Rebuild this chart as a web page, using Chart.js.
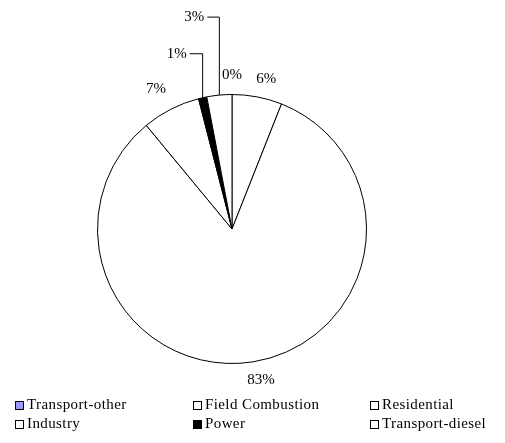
<!DOCTYPE html>
<html>
<head>
<meta charset="utf-8">
<script src="https://cdn.jsdelivr.net/npm/chart.js@4.4.0/dist/chart.umd.min.js"></script>
<style>
  html, body { margin: 0; padding: 0; background: #fff; }
  canvas { display: block; }
</style>
</head>
<body>
<canvas id="myCanvas" width="505" height="443"></canvas>
<script>
// emission shares by source, in percent, drawn clockwise from 12 o'clock
const sources = ["Transport-other", "Field Combustion", "Residential", "Industry", "Power", "Transport-diesel"];
const shares = [0, 6, 83, 7, 1, 3];
const fills = ["#9999ff", "#ffffff", "#ffffff", "#ffffff", "#000000", "#ffffff"];

// label placement: offset from the slice's outer edge midpoint, and whether a leader line is used
const labelShift = [[0, -19], [9, -18], [8, 18], [-15, -20], [-26, -44], [-25, -78]];
const useLeader = [false, false, false, false, true, true];

const LABEL_FONT = "15px 'Liberation Serif', 'Times New Roman', serif";
const LEGEND_FONT = "15px 'Liberation Serif', 'Times New Roman', serif";

const pieLabels = {
    id: "pieLabels",
    afterDatasetsDraw(chart) {
        const ctx = chart.ctx;
        const arcs = chart.getDatasetMeta(0).data;
        ctx.save();
        ctx.font = LABEL_FONT;
        ctx.fillStyle = "#000";
        ctx.strokeStyle = "#000";
        ctx.lineWidth = 1;
        ctx.textAlign = "center";
        ctx.textBaseline = "middle";
        arcs.forEach((arc, i) => {
            const p = arc.getProps(["x", "y", "startAngle", "endAngle", "outerRadius"], true);
            const mid = (p.startAngle + p.endAngle) / 2;
            const ex = p.x + Math.cos(mid) * p.outerRadius;
            const ey = p.y + Math.sin(mid) * p.outerRadius;
            const lx = ex + labelShift[i][0];
            const ly = ey + labelShift[i][1];
            const text = shares[i] + "%";
            if (useLeader[i]) {
                const w = ctx.measureText(text).width;
                ctx.beginPath();
                ctx.moveTo(ex, ey);
                ctx.lineTo(ex, ly);
                ctx.lineTo(lx + w / 2 + 3, ly);
                ctx.stroke();
            }
            ctx.fillText(text, lx, ly);
        });
        ctx.restore();
    },
};

// three-column legend under the pie
const legendGrid = {
    id: "legendGrid",
    afterDraw(chart) {
        const ctx = chart.ctx;
        const colX = [15, 193, 370];
        const rowY = [405, 424];
        ctx.save();
        ctx.font = LEGEND_FONT;
        ctx.letterSpacing = "0.4px";
        ctx.textBaseline = "middle";
        ctx.textAlign = "left";
        ctx.lineWidth = 1;
        sources.forEach((name, i) => {
            const x = colX[i % 3];
            const y = rowY[Math.floor(i / 3)];
            ctx.fillStyle = fills[i];
            ctx.fillRect(x, y - 4, 8, 8);
            ctx.strokeStyle = "#000";
            ctx.strokeRect(x + 0.5, y - 3.5, 8, 8);
            ctx.fillStyle = "#000";
            ctx.fillText(name, x + 12, y);
        });
        ctx.restore();
    },
};

new Chart(document.getElementById("myCanvas"), {
    type: "pie",
    data: {
        labels: sources,
        datasets: [
            {
                data: shares,
                backgroundColor: fills,
                borderColor: "#000",
                borderWidth: 1,
                hoverOffset: 0,
            },
        ],
    },
    options: {
        responsive: false,
        animation: false,
        layout: {
            padding: { left: 97, right: 138, top: 94, bottom: 79 },
        },
        plugins: {
            legend: { display: false },
            tooltip: { enabled: false },
        },
    },
    plugins: [pieLabels, legendGrid],
});
</script>
</body>
</html>
